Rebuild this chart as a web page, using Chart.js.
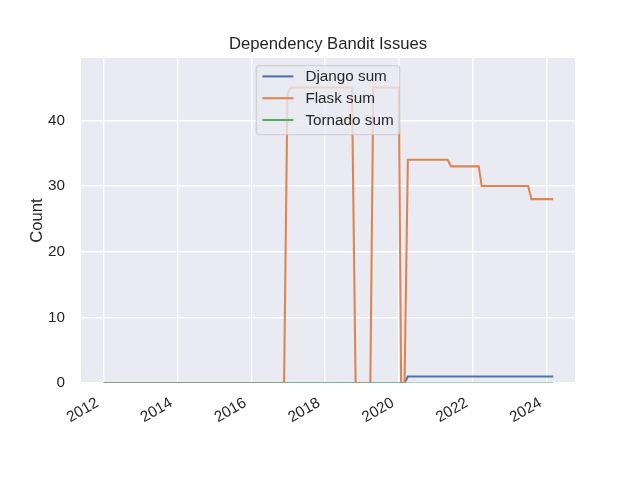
<!DOCTYPE html>
<html>
<head>
<meta charset="utf-8">
<title>Dependency Bandit Issues</title>
<script src="https://cdn.jsdelivr.net/npm/chart.js@4.4.1/dist/chart.umd.min.js"></script>
<style>
  body { margin: 0; background: #fff; }
</style>
</head>
<body>
<canvas id="banditChart" width="640" height="480"></canvas>
<script>
// Dependency Bandit Issues - per project sums over time

// Series (only the dates where a line changes direction)
const djangoDates = ['2012-01-01', '2020-02-26', '2020-03-30', '2024-03-07'];
const djangoValues = [0, 0, 1, 1];

const flaskDates = ['2012-01-01', '2016-11-22', '2016-12-25', '2017-01-27', '2018-09-24', '2018-10-30',
    '2019-03-25', '2019-04-23', '2019-12-31', '2020-01-23', '2020-02-26', '2020-03-30',
    '2021-04-28', '2021-06-01', '2022-03-01', '2022-03-31', '2023-07-03', '2023-08-05', '2024-03-07'];
const flaskValues = [0, 0, 44, 45, 45, 0, 0, 45, 45, 0, 0, 34, 34, 33, 33, 30, 30, 28, 28];

const tornadoDates = ['2012-01-01', '2024-03-07'];
const tornadoValues = [0, 0];

// Axis ticks
const xTickYears = [2012, 2014, 2016, 2018, 2020, 2022, 2024];
const yTicks = [0, 10, 20, 30, 40];

const FONT = '"Liberation Sans", Arial, "DejaVu Sans", sans-serif';
const TEXT = '#262626';
const LINE_W = 2.08;   // 1.5pt at 100 dpi

// date string -> fractional year (no date adapter available)
function toYear(s) {
    const d = Date.parse(s + 'T00:00:00Z');
    const y = new Date(d).getUTCFullYear();
    const start = Date.UTC(y, 0, 1);
    const end = Date.UTC(y + 1, 0, 1);
    return y + (d - start) / (end - start);
}

function points(dates, values) {
    return dates.map((d, i) => ({ x: toYear(d), y: values[i] }));
}

// grey plotting area like seaborn darkgrid, title centred over the axes
const areaBackground = {
    id: 'areaBackground',
    afterLayout(chart) {
        const t = chart.titleBlock;
        if (t) {
            t.left = chart.chartArea.left;
            t.right = chart.chartArea.right;
            t.width = t.right - t.left;
        }
    },
    beforeDraw(chart) {
        const { ctx, chartArea: a } = chart;
        ctx.save();
        ctx.fillStyle = '#EAEAF2';
        ctx.fillRect(a.left, a.top, a.right - a.left, a.bottom - a.top);
        ctx.restore();
    }
};

// matplotlib style legend, upper centre of the plot
const boxLegend = {
    id: 'boxLegend',
    afterDraw(chart) {
        const { ctx, chartArea: a } = chart;
        const fs = 15.28;
        const sets = chart.data.datasets;
        ctx.save();
        ctx.font = fs + 'px ' + FONT;
        const textW = Math.max(...sets.map(s => ctx.measureText(s.label).width));
        const pad = 6, handle = 31, gap = 12, rowH = 21.8;
        const w = pad + handle + gap + textW + pad;
        const h = 69;
        const x = (a.left + a.right) / 2 - w / 2;
        const y = a.top + 7.6;

        ctx.beginPath();
        ctx.roundRect(x, y, w, h, 3);
        ctx.fillStyle = 'rgba(234,234,242,0.8)';
        ctx.fill();
        ctx.lineWidth = 1.39;
        ctx.strokeStyle = 'rgba(204,204,204,0.8)';
        ctx.stroke();

        sets.forEach((s, i) => {
            const cy = y + 10.8 + i * rowH;
            ctx.beginPath();
            ctx.moveTo(x + pad, cy);
            ctx.lineTo(x + pad + handle, cy);
            ctx.strokeStyle = s.borderColor;
            ctx.lineWidth = LINE_W;
            ctx.stroke();
            ctx.fillStyle = TEXT;
            ctx.textBaseline = 'middle';
            ctx.textAlign = 'left';
            ctx.fillText(s.label, x + pad + handle + gap, cy + 0.5);
        });
        ctx.restore();
    }
};

function renderChart() {
    const ctx = document.getElementById('banditChart').getContext('2d');
    new Chart(ctx, {
        type: 'line',
        data: {
            datasets: [{
                label: 'Django sum',
                data: points(djangoDates, djangoValues),
                borderColor: '#4C72B0',
                order: 3
            }, {
                label: 'Flask sum',
                data: points(flaskDates, flaskValues),
                borderColor: '#DD8452',
                order: 2
            }, {
                label: 'Tornado sum',
                data: points(tornadoDates, tornadoValues),
                borderColor: '#55A868',
                order: 1
            }]
        },
        options: {
            responsive: false,
            animation: false,
            parsing: false,
            layout: {
                padding: { left: 0, top: 23, right: 65, bottom: 37 }
            },
            elements: {
                line: { borderWidth: LINE_W, tension: 0, fill: false },
                point: { radius: 0, hoverRadius: 0 }
            },
            datasets: {
                line: { clip: { left: 0, top: 0, right: 0, bottom: -0.6 } }
            },
            scales: {
                x: {
                    type: 'linear',
                    min: 2011.39,
                    max: 2024.77,
                    afterBuildTicks: scale => {
                        scale.ticks = xTickYears.map(v => ({ value: v }));
                    },
                    afterFit: scale => { scale.height = 60; },
                    grid: { color: '#ffffff', lineWidth: 1.39, drawTicks: false },
                    border: { display: false },
                    ticks: {
                        color: TEXT,
                        font: { family: FONT, size: 15.28 },
                        padding: 11,
                        labelOffset: -6,
                        minRotation: 30,
                        maxRotation: 30,
                        autoSkip: false,
                        callback: v => String(v)
                    }
                },
                y: {
                    min: 0,
                    max: 49.5,
                    afterBuildTicks: scale => {
                        scale.ticks = yTicks.map(v => ({ value: v }));
                    },
                    afterFit: scale => { scale.width = 81; },
                    grid: { color: '#ffffff', lineWidth: 1.39, drawTicks: false },
                    border: { display: false },
                    title: {
                        display: true,
                        text: 'Count',
                        color: TEXT,
                        font: { family: FONT, size: 16.67 },
                        padding: { top: 27, bottom: 0 }
                    },
                    ticks: {
                        color: TEXT,
                        font: { family: FONT, size: 15.28 },
                        padding: 16
                    }
                }
            },
            plugins: {
                legend: { display: false },
                tooltip: { enabled: false },
                title: {
                    display: true,
                    text: 'Dependency Bandit Issues',
                    color: TEXT,
                    font: { family: FONT, size: 16.67, weight: 'normal', lineHeight: 1.2 },
                    padding: { top: 11, bottom: 4 }
                }
            }
        },
        plugins: [areaBackground, boxLegend]
    });
}

document.addEventListener('DOMContentLoaded', renderChart);
</script>
</body>
</html>
